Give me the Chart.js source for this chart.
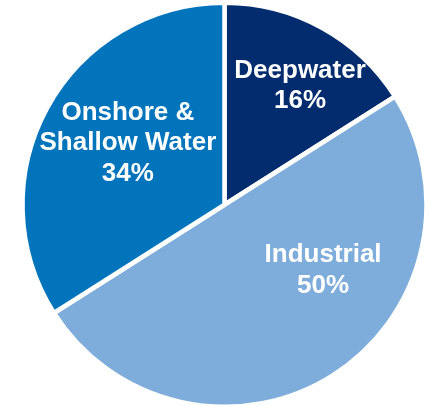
<!DOCTYPE html>
<html>
<head>
<meta charset="utf-8">
<script src="https://cdn.jsdelivr.net/npm/chart.js@4"></script>
<style>
  html, body { margin: 0; padding: 0; background: #fff; }
  #wrap { width: 428px; height: 405px; }
</style>
</head>
<body>
<div id="wrap"><canvas id="segmentPie"></canvas></div>
<script>
// Data
const segment_labels = [['Deepwater', '16%'], ['Industrial', '50%'], ['Onshore &', 'Shallow Water', '34%']];
const segment_values = [16, 50, 34];
const segment_colors = ['#032C6E', '#7EADDB', '#0174BC'];

// label placement: angle shift (deg) from slice middle, radius fraction
const label_place = [{ da: 3.1, r: 0.715 }, { da: -25, r: 0.585 }, { da: 4.8, r: 0.58 }];

const sliceLabels = {
  id: 'sliceLabels',
  afterDatasetsDraw(chart) {
    const ctx = chart.ctx;
    const arcs = chart.getDatasetMeta(0).data;
    ctx.save();
    ctx.fillStyle = '#ffffff';
    ctx.font = 'bold 26px "Liberation Sans", Arial, sans-serif';
    ctx.textAlign = 'center';
    ctx.textBaseline = 'alphabetic';
    arcs.forEach((arc, i) => {
      const mid = (arc.startAngle + arc.endAngle) / 2 + label_place[i].da * Math.PI / 180;
      const cx = arc.x + Math.cos(mid) * 200 * label_place[i].r;
      const cy = arc.y + Math.sin(mid) * 200 * label_place[i].r;
      const lines = segment_labels[i];
      const lineH = 30.5;
      const top = cy - (lines.length - 1) * lineH / 2;
      lines.forEach((t, k) => {
        ctx.fillText(t, cx, top + k * lineH + 9.5);
      });
    });
    ctx.restore();
  }
};

const pieChart = new Chart(document.getElementById('segmentPie').getContext('2d'), {
  type: 'pie',
  data: {
    labels: segment_labels.map(l => l.join(' ')),
    datasets: [{
      data: segment_values,
      backgroundColor: segment_colors,
      borderColor: '#ffffff',
      borderWidth: 4.5,
      hoverOffset: 0,
      radius: 202
    }]
  },
  options: {
    responsive: true,
    maintainAspectRatio: false,
    animation: false,
    layout: { padding: { left: 24.5, right: 3.5, top: 4.5, bottom: 0 } },
    plugins: {
      legend: { display: false },
      tooltip: { enabled: false }
    }
  },
  plugins: [sliceLabels]
});
</script>
</body>
</html>
